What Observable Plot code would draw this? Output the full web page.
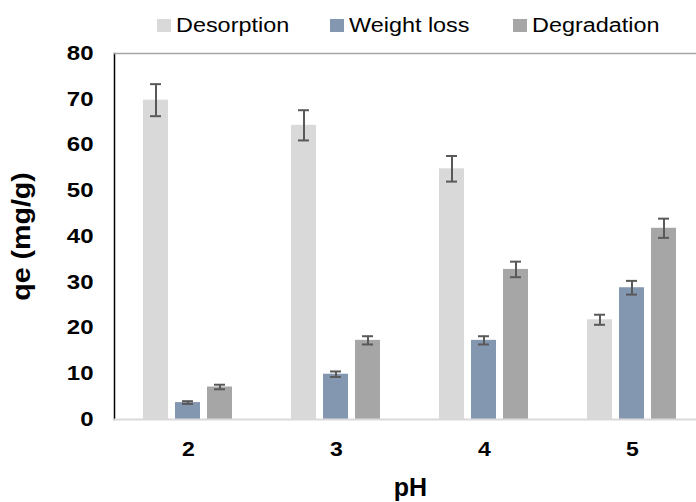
<!DOCTYPE html>
<html>
<head>
<meta charset="utf-8">
<script src="https://cdn.jsdelivr.net/npm/d3@7"></script>
<script src="https://cdn.jsdelivr.net/npm/@observablehq/plot@0.6"></script>
<style>
  html, body { margin: 0; padding: 0; background: #fff; overflow: hidden; }
  body { width: 696px; height: 502px; font-family: "Liberation Sans", Arial, sans-serif; }
  #legend { position: relative; height: 40px; width: 696px; }
  .item { position: absolute; top: 5px; height: 40px; display: flex; align-items: center; font-size: 20px; color: #000; white-space: nowrap; }
  .sw { width: 14px; height: 13px; margin-right: 5px; }
  .tx { display: inline-block; transform: scaleX(1.17); transform-origin: left center; }
  #chart svg text { font-family: "Liberation Sans", Arial, sans-serif; }
  #chart g[aria-label="y-axis tick label"] text,
  #chart g[aria-label="fx-axis tick label"] text { font-size: 20px; font-weight: bold; fill: #000; }
  #chart g[aria-label="y-axis label"] text { font-size: 26px; font-weight: bold; fill: #000; }
  #chart g[aria-label="fx-axis label"] text { font-size: 25px; font-weight: bold; fill: #000; }
  #chart g[aria-label="frame"], #chart g[aria-label="y-axis line"] { stroke: #a6a6a6; stroke-width: 1.5; }
</style>
</head>
<body>
<div id="legend"></div>
<div id="chart"></div>
<script>
// ---- data ----
const pHs = ["2", "3", "4", "5"];
const series = ["Desorption", "Weight loss", "Degradation"];
const desorption = [69.8, 64.3, 54.8, 21.8];
const desorptionErr = [3.5, 3.3, 2.8, 1.1];
const weightLoss = [3.7, 9.9, 17.3, 28.8];
const weightLossErr = [0.3, 0.6, 0.9, 1.5];
const degradation = [7.1, 17.3, 32.8, 41.8];
const degradationErr = [0.5, 0.9, 1.7, 2.1];
const colors = ["#d9d9d9", "#8497b0", "#a6a6a6"];
const yTicks = [0, 10, 20, 30, 40, 50, 60, 70, 80];

const values = [desorption, weightLoss, degradation];
const errors = [desorptionErr, weightLossErr, degradationErr];
const rows = [];
pHs.forEach((p, i) => series.forEach((s, j) => rows.push({
  pH: p, series: s, value: values[j][i], lo: values[j][i] - errors[j][i], hi: values[j][i] + errors[j][i]
})));

// ---- legend ----
const legendLeft = [157, 330, 513];
const legend = document.getElementById("legend");
series.forEach((s, j) => {
  const it = document.createElement("div");
  it.className = "item";
  it.style.left = legendLeft[j] + "px";
  const sw = document.createElement("span");
  sw.className = "sw";
  sw.style.background = colors[j];
  const tx = document.createElement("span");
  tx.className = "tx";
  tx.textContent = s;
  it.append(sw, tx);
  legend.append(it);
});

// ---- chart ----
const errStroke = "#595959";
const chart = Plot.plot({
  width: 696,
  height: 462,
  marginTop: 13,
  marginBottom: 83,
  marginLeft: 113,
  marginRight: -10,
  facet: {data: rows, x: "pH"},
  fx: {domain: pHs, padding: 0, axis: "bottom", tickSize: 0, tickPadding: 22, label: "pH", labelAnchor: "center", labelOffset: 76},
  x: {domain: series, axis: null, paddingInner: 0.21, paddingOuter: 0.85},
  y: {domain: [0, 80], ticks: yTicks, tickSize: 0, tickPadding: 21, label: "qe (mg/g)", labelAnchor: "center", labelOffset: 103, labelArrow: false, line: true},
  color: {domain: series, range: colors},
  marks: [
    Plot.ruleY([80], {stroke: "#a6a6a6", strokeWidth: 1.5}),
    Plot.barY(rows, {x: "series", y: "value", fill: "series"}),
    Plot.ruleX(rows, {x: "series", y1: "lo", y2: "hi", stroke: errStroke, strokeWidth: 2}),
    Plot.tickY(rows, {x: "series", y: "lo", stroke: errStroke, strokeWidth: 2, insetLeft: 7, insetRight: 7}),
    Plot.tickY(rows, {x: "series", y: "hi", stroke: errStroke, strokeWidth: 2, insetLeft: 7, insetRight: 7}),
    Plot.ruleY([0], {stroke: "#d9d9d9", strokeWidth: 2})
  ]
});
document.getElementById("chart").append(chart);

// strip any arrow Plot may add to axis labels, then widen glyphs to match the reference
chart.querySelectorAll('g[aria-label$="axis label"] text').forEach(t => {
  t.textContent = t.textContent.replace(/\s*[\u2191\u2193\u2190\u2192]\s*/g, "").trim();
});
function stretch(sel, k) {
  chart.querySelectorAll(sel).forEach(t => {
    const L = t.getComputedTextLength();
    t.setAttribute("textLength", L * k);
    t.setAttribute("lengthAdjust", "spacingAndGlyphs");
  });
}
stretch('g[aria-label="y-axis tick label"] text', 1.2);
stretch('g[aria-label="fx-axis tick label"] text', 1.15);
stretch('g[aria-label="y-axis label"] text', 1.1);
</script>
</body>
</html>
